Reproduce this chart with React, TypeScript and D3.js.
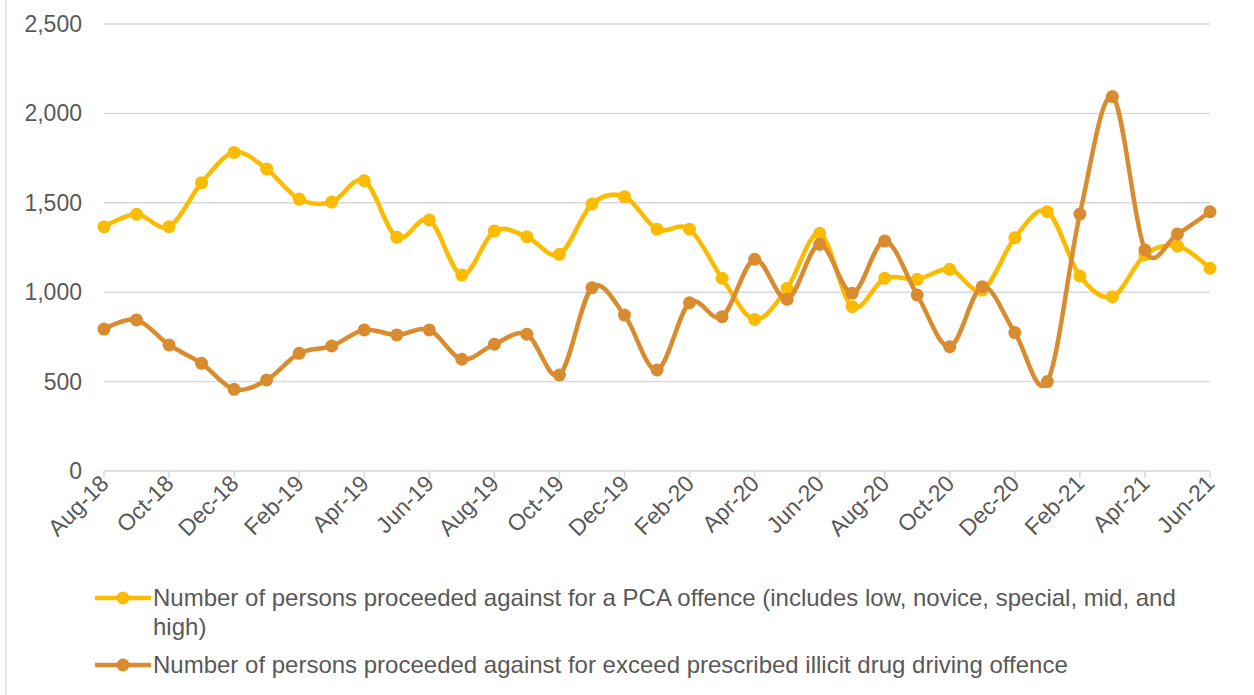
import React from 'react';
import * as d3 from 'd3';

const months = [
  'Aug-18', 'Sep-18', 'Oct-18', 'Nov-18', 'Dec-18',
  'Jan-19', 'Feb-19', 'Mar-19', 'Apr-19', 'May-19', 'Jun-19', 'Jul-19', 'Aug-19', 'Sep-19', 'Oct-19', 'Nov-19', 'Dec-19',
  'Jan-20', 'Feb-20', 'Mar-20', 'Apr-20', 'May-20', 'Jun-20', 'Jul-20', 'Aug-20', 'Sep-20', 'Oct-20', 'Nov-20', 'Dec-20',
  'Jan-21', 'Feb-21', 'Mar-21', 'Apr-21', 'May-21', 'Jun-21',
];

// PCA offences
const pcaValues = [
  1366, 1436, 1366, 1612, 1782,
  1689, 1521, 1504, 1624, 1307, 1404, 1096, 1342, 1310, 1212, 1493, 1534,
  1352, 1352, 1078, 848, 1022, 1329, 919, 1078, 1072, 1128, 1012, 1305,
  1450, 1091, 975, 1208, 1258, 1134,
];

// illicit drug driving offences
const drugValues = [
  794, 845, 705, 602, 457,
  509, 658, 699, 789, 761, 789, 625, 709, 765, 537, 1025, 872,
  565, 941, 863, 1184, 960, 1268, 994, 1286, 984, 695, 1031, 774,
  500, 1437, 2094, 1236, 1326, 1450,
];

const yTicks = [0, 500, 1000, 1500, 2000, 2500];

const seriesNames = [
  ['Number of persons proceeded against for a PCA offence (includes low, novice, special, mid, and', 'high)'],
  ['Number of persons proceeded against for exceed prescribed illicit drug driving offence'],
];
const colors = ['#FBBB00', '#D98C2F'];

const W = 1254;
const H = 695;
const FONT = '"Liberation Sans", Arial, sans-serif';
const TEXT = '#595959';
const GRID = '#D9D9D9';

export default function App() {
  const x = d3.scalePoint<string>().domain(months).range([104, 1210]);
  const y = d3.scaleLinear().domain([0, 2500]).range([471, 24]);

  const line = d3
    .line<number>()
    .x((d, i) => x(months[i])!)
    .y((d) => y(d))
    .curve(d3.curveCardinal.tension(0));

  const tickMonths = months.filter((m, i) => i % 2 === 0);
  const allSeries = [pcaValues, drugValues];

  return (
    <svg
      width={W}
      height={H}
      style={{ position: 'absolute', left: 0, top: 0, background: '#fff', fontFamily: FONT }}
    >
      <line x1={6} x2={6} y1={0} y2={H} stroke={GRID} strokeWidth={1.5} />

      {/* gridlines + y labels */}
      {yTicks.map((t) => (
        <g key={t}>
          {t > 0 && (
            <line x1={104} x2={1210} y1={y(t)} y2={y(t)} stroke={GRID} strokeWidth={1.5} />
          )}
          <text x={82} y={y(t)} dy="0.35em" textAnchor="end" fontSize={23} fill={TEXT}>
            {d3.format(',')(t)}
          </text>
        </g>
      ))}

      {/* x axis */}
      <line x1={104} x2={1210} y1={y(0)} y2={y(0)} stroke={GRID} strokeWidth={1.5} />
      {tickMonths.map((m) => (
        <g key={m}>
          <line x1={x(m)} x2={x(m)} y1={y(0)} y2={y(0) + 7} stroke={GRID} strokeWidth={1.5} />
          <text
            transform={`translate(${x(m)! + 6},${y(0) + 14}) rotate(-45)`}
            textAnchor="end"
            fontSize={23}
            fill={TEXT}
          >
            {m}
          </text>
        </g>
      ))}

      {/* series */}
      {allSeries.map((vals, s) => (
        <g key={s}>
          <path d={line(vals)!} fill="none" stroke={colors[s]} strokeWidth={4.5} strokeLinejoin="round" />
          {vals.map((v, i) => (
            <circle key={i} cx={x(months[i])} cy={y(v)} r={6.5} fill={colors[s]} />
          ))}
        </g>
      ))}

      {/* legend */}
      {seriesNames.map((lines, s) => {
        const cy = s === 0 ? 598 : 665;
        return (
          <g key={s}>
            <line x1={95} x2={151} y1={cy} y2={cy} stroke={colors[s]} strokeWidth={4.5} />
            <circle cx={123} cy={cy} r={6.5} fill={colors[s]} />
            {lines.map((t, k) => (
              <text key={k} x={153} y={cy + k * 29} dy="0.35em" fontSize={24} fill={TEXT}>
                {t}
              </text>
            ))}
          </g>
        );
      })}
    </svg>
  );
}
